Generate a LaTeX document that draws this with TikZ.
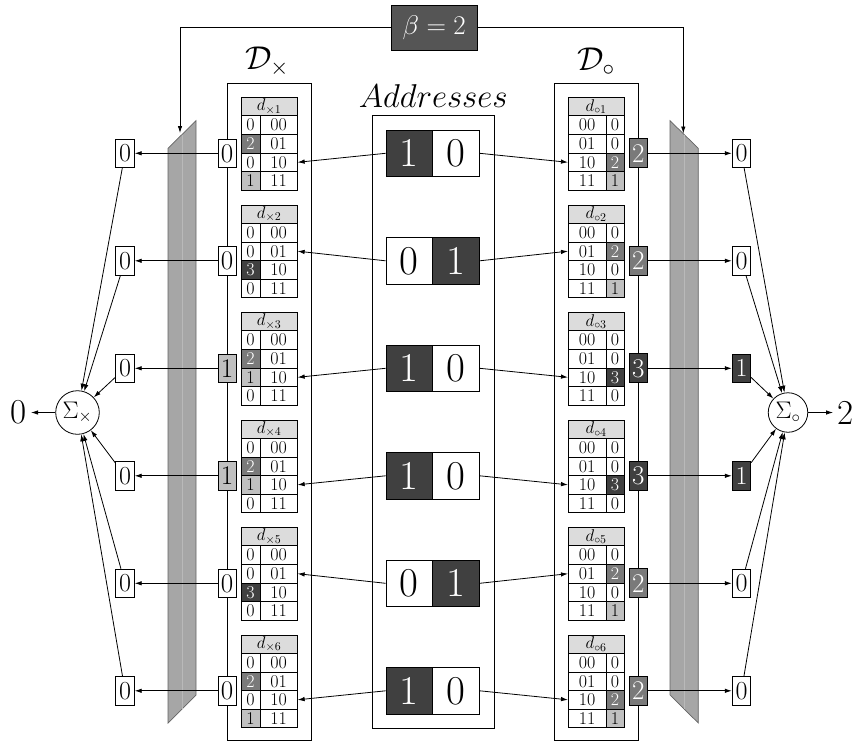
\RequirePackage{fix-cm}
\documentclass[tikz,border=0pt]{standalone}
\usetikzlibrary{arrows.meta}
\definecolor{val0}{RGB}{255,255,255}
\definecolor{val1}{RGB}{192,192,192}
\definecolor{val2}{RGB}{122,122,122}
\definecolor{val3}{RGB}{64,64,64}
\colorlet{tval0}{black}
\colorlet{tval1}{black}
\colorlet{tval2}{white}
\colorlet{tval3}{white}
\colorlet{aval0}{white}
\colorlet{aval1}{val3}
\colorlet{taval0}{black}
\colorlet{taval1}{white}
\colorlet{sval0}{white}
\colorlet{sval1}{val3}
\colorlet{tsval0}{black}
\colorlet{tsval1}{white}
\definecolor{hdr}{RGB}{220,220,220}
\definecolor{betac}{RGB}{85,85,85}
\definecolor{panelc}{RGB}{166,166,166}
\definecolor{panelb}{RGB}{100,100,100}
\definecolor{panell}{RGB}{185,185,185}
\tikzset{
  arr/.style={-{Latex[length=7pt,width=4.5pt]}, line width=0.8pt},
  tcell/.style={draw=black, line width=0.7pt, inner sep=0pt, minimum height=18.6, font=\fontsize{18}{20}\selectfont},
  hcell/.style={tcell, fill=hdr, minimum height=18.3, font=\fontsize{17}{19}\selectfont},
  acell/.style={draw=black, line width=0.8pt, inner sep=0pt, minimum width=46.7, minimum height=46.7, font=\fontsize{41}{45}\selectfont},
  obox/.style={draw=black, line width=0.8pt, inner sep=0pt, minimum width=18, font=\fontsize{27}{30}\selectfont},
  sbox/.style={draw=black, line width=0.8pt, inner sep=0pt, minimum width=18.6, minimum height=28.3, font=\fontsize{26}{29}\selectfont},
  bigbox/.style={draw=black, line width=0.8pt, inner sep=0pt},
  biglabel/.style={inner sep=0pt, font=\fontsize{33}{38}\selectfont},
  sumnode/.style={circle, draw=black, line width=0.8pt, inner sep=0pt, font=\fontsize{24}{27}\selectfont},
  outnode/.style={inner sep=4.5pt, font=\fontsize{35}{39}\selectfont},
  panel/.style={fill=panelc, draw=panelb, line width=0.7pt},
}
\begin{document}
\begin{tikzpicture}[x=1pt,y=-1pt]
\useasboundingbox (0,0) rectangle (855,742);
% gray panels
\path[panel] (168,148.3) -- (196,120.7) -- (196,695) -- (168,723) -- cycle;
\draw[panell, line width=0.8pt] (182,134.5) -- (182,709);
\path[panel] (670,120.7) -- (698.3,148.3) -- (698.3,723) -- (670,695) -- cycle;
\draw[panell, line width=0.8pt] (684,134.5) -- (684,709);
% big boxes and labels
\node[bigbox, minimum width=84, minimum height=656.7] (dxbox) at (269,411.7) {};
\node[bigbox, minimum width=84.3, minimum height=656.7] (dobox) at (596.15,411.7) {};
\node[bigbox, minimum width=122, minimum height=612.3] (adbox) at (433.3,421.85) {};
\node[biglabel] (dxl) at (267,62) {$\mathcal{D}_\times$};
\node[biglabel] (dol) at (596,62) {$\mathcal{D}_\circ$};
\node[biglabel] (adl) at (433.3,96) {$Addresses$};
% beta
\node[draw=black, line width=0.8pt, fill=betac, text=white, inner sep=0pt, minimum width=85.5, minimum height=45, font=\fontsize{27}{30}\selectfont] (beta) at (434.2,27.5) {$\beta=2$};
\coordinate (bl) at (180,27.5);
\coordinate (blt) at (180,133);
\coordinate (br) at (683.3,27.5);
\coordinate (brt) at (683.3,133.5);
\draw[arr] (beta.west) -- (bl) -- (blt);
\draw[arr] (beta.east) -- (br) -- (brt);
% sums
\node[sumnode, minimum size=43.6] (sx) at (77.5,412.5) {$\Sigma_\times$};
\node[sumnode, minimum size=39.5] (so) at (788,412.5) {$\Sigma_\circ$};
\node[outnode] (outx) at (18.3,412.5) {0};
\node[outnode] (outo) at (845.8,412.5) {2};
\draw[arr] (sx) -- (outx);
\draw[arr] (so) -- (outo);
% rows
\foreach \i/\va/\vb/\vc/\vd/\xa/\xb/\xc/\xd/\ba/\bb/\rw/\ol/\orv/\srv in {
 1/0/2/0/1/0/0/2/1/1/0/3/0/2/0,
 2/0/0/3/0/0/2/0/1/0/1/2/0/2/0,
 3/0/2/1/0/0/0/3/0/1/0/3/1/3/1,
 4/0/2/1/0/0/0/3/0/1/0/3/1/3/1,
 5/0/0/3/0/0/2/0/1/0/1/2/0/2/0,
 6/0/2/0/1/0/0/2/1/1/0/3/0/2/0}{
  \pgfmathsetmacro{\ty}{97.5+107.5*(\i-1)}
  \pgfmathsetmacro{\ay}{\ty+55.8}
  \node[hcell, minimum width=56.3] (lh-\i) at (269.15,\ty+9.15) {$d_{\times\i}$};
  \node[hcell, minimum width=55.7] (rh-\i) at (596.15,\ty+9.15) {$d_{\circ\i}$};
  \foreach \k/\vv/\ww/\lab in {1/\va/\xa/00, 2/\vb/\xb/01, 3/\vc/\xc/10, 4/\vd/\xd/11}{
    \pgfmathsetmacro{\ry}{\ty+18.3+18.6*(\k-0.5)}
    \node[tcell, minimum width=19, fill=val\vv, text=tval\vv] (lv-\i-\k) at (250.5,\ry) {\vv};
    \node[tcell, minimum width=37.3] (la-\i-\k) at (278.65,\ry) {\lab};
    \node[tcell, minimum width=37.7] (ra-\i-\k) at (587.15,\ry) {\lab};
    \node[tcell, minimum width=18, fill=val\ww, text=tval\ww] (rv-\i-\k) at (615,\ry) {\ww};
  }
  \node[acell, fill=aval\ba, text=taval\ba] (ad-\i-1) at (409.35,\ay) {\ba};
  \node[acell, fill=aval\bb, text=taval\bb] (ad-\i-2) at (456,\ay) {\bb};
  \draw[arr] (ad-\i-1.west) -- (la-\i-\rw.east);
  \draw[arr] (ad-\i-2.east) -- (ra-\i-\rw.west);
  \node[obox, minimum height=28.3, fill=val\ol, text=tval\ol] (lo-\i) at (227,\ay) {\ol};
  \node[obox, minimum height=29, fill=val\orv, text=tval\orv] (ro-\i) at (638.3,\ay) {\orv};
  \node[sbox, fill=white] (ls-\i) at (125,\ay) {0};
  \node[sbox, fill=sval\srv, text=tsval\srv] (rs-\i) at (741.5,\ay) {\srv};
  \draw[arr] (lo-\i) -- (ls-\i);
  \draw[arr] (ro-\i) -- (rs-\i);
  \draw[arr] (ls-\i) -- (sx);
  \draw[arr] (rs-\i) -- (so);
}
\end{tikzpicture}
\end{document}
